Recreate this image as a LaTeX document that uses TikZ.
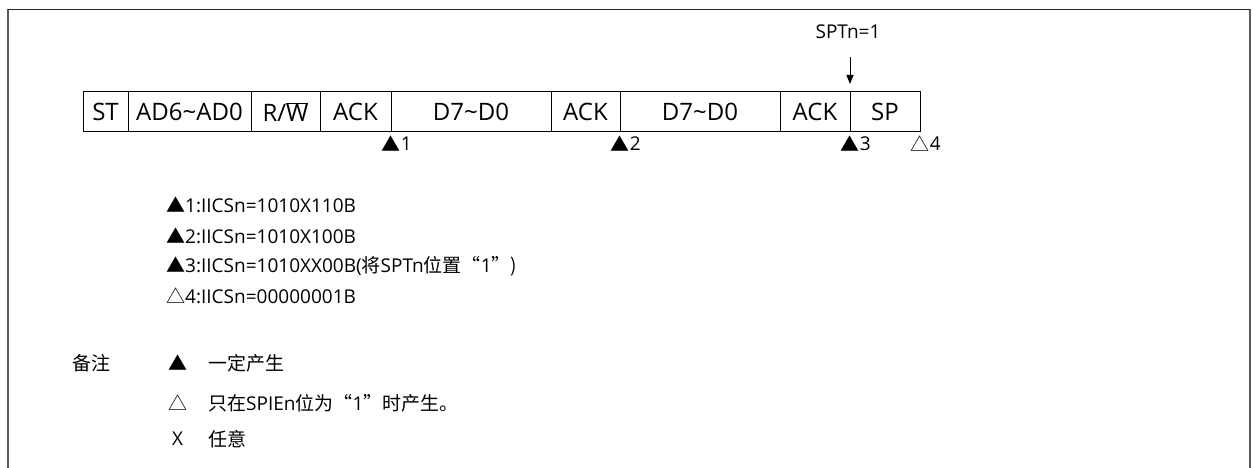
\documentclass[tikz,border=0pt]{standalone}
\usepackage{fontspec}
\setmainfont{Open Sans}
\newfontfamily\cjk{Noto Sans CJK SC}
\usetikzlibrary{arrows.meta}
\begin{document}
\begin{tikzpicture}[x=1pt,y=-1pt,
  cell/.style={draw, line width=1pt, minimum height=40pt, inner sep=0pt, outer sep=0pt, anchor=north west, font=\fontsize{24}{24}\selectfont},
  lbl/.style={font=\fontsize{19}{19}\selectfont, inner sep=0pt, anchor=west},
  tri/.style={font=\fontsize{19}{19}\selectfont\cjk, inner sep=0pt, anchor=center},
  num/.style={font=\fontsize{19}{19}\selectfont, inner sep=0pt, anchor=west},
  frameside/.style={line width=2pt, draw=black!65},
  frametop/.style={line width=1.2pt, draw=black!85}]
\useasboundingbox (0,0) rectangle (1253,468);
\coordinate (fbl) at (7.5,475);
\coordinate (ftl) at (7.5,9.5);
\coordinate (ftr) at (1249.5,9.5);
\coordinate (fbr) at (1249.5,475);
\draw[frameside] (fbl) -- (ftl);
\draw[frameside] (ftr) -- (fbr);
\draw[frametop] (ftl) -- (ftr);
% cells
\node[cell, minimum width=45pt] (c1) at (83,92) {ST};
\node[cell, minimum width=123pt] (c2) at (c1.north east) {AD6\char"7E AD0};
\node[cell, minimum width=69pt] (c3) at (c2.north east) {R/\mbox{$\overline{\mbox{W}}$}};
\node[cell, minimum width=71pt] (c4) at (c3.north east) {ACK};
\node[cell, minimum width=160pt] (c5) at (c4.north east) {D7\char"7E D0};
\node[cell, minimum width=69pt] (c6) at (c5.north east) {ACK};
\node[cell, minimum width=160pt] (c7) at (c6.north east) {D7\char"7E D0};
\node[cell, minimum width=70pt] (c8) at (c7.north east) {ACK};
\node[cell, minimum width=70pt] (c9) at (c8.north east) {SP};
% SPTn arrow
\node[font=\fontsize{19}{19}\selectfont, inner sep=0pt] (spt) at (848,32) {SPTn=1};
\coordinate (arrtop) at ([yshift=35pt]c8.north east);
\coordinate (arrend) at ([yshift=8pt]c8.north east);
\draw[line width=1pt, -{Triangle[length=9pt,width=7pt]}] (arrtop) -- (arrend);
% markers
\node[tri] (t1) at ([yshift=-12pt]c4.south east) {▲};
\node[num] (k1) at (t1.east) {1};
\node[tri] (t2) at ([yshift=-12pt]c6.south east) {▲};
\node[num] (k2) at (t2.east) {2};
\node[tri] (t3) at ([yshift=-12pt]c8.south east) {▲};
\node[num] (k3) at (t3.east) {3};
\node[tri] (t4) at ([yshift=-12pt]c9.south east) {△};
\node[num] (k4) at (t4.east) {4};
% legend
\node[lbl] (l1) at (166,205) {{\cjk ▲}1:IICSn=1010X110B};
\node[lbl] (l2) at (166,236) {{\cjk ▲}2:IICSn=1010X100B};
\node[lbl] (l3) at (166,266) {{\cjk ▲}3:IICSn=1010XX00B({\cjk 将}SPTn{\cjk 位置“}1{\cjk ”}{\cjk )}};
\node[lbl] (l4) at (166,296) {{\cjk △}4:IICSn=00000001B};
\node[lbl] (n0) at (72,363) {\cjk 备注};
\node[lbl] (n1) at (168,363) {\cjk ▲};
\node[lbl] (n1t) at (208,363) {\cjk 一定产生};
\node[lbl] (n2) at (168,403) {\cjk △};
\node[lbl] (n2t) at (208,403) {{\cjk 只在}SPIEn{\cjk 位为“}1{\cjk ”时产生。}};
\node[lbl] (n3) at (172,439) {X};
\node[lbl] (n3t) at (208,439) {\cjk 任意};
\end{tikzpicture}
\end{document}
